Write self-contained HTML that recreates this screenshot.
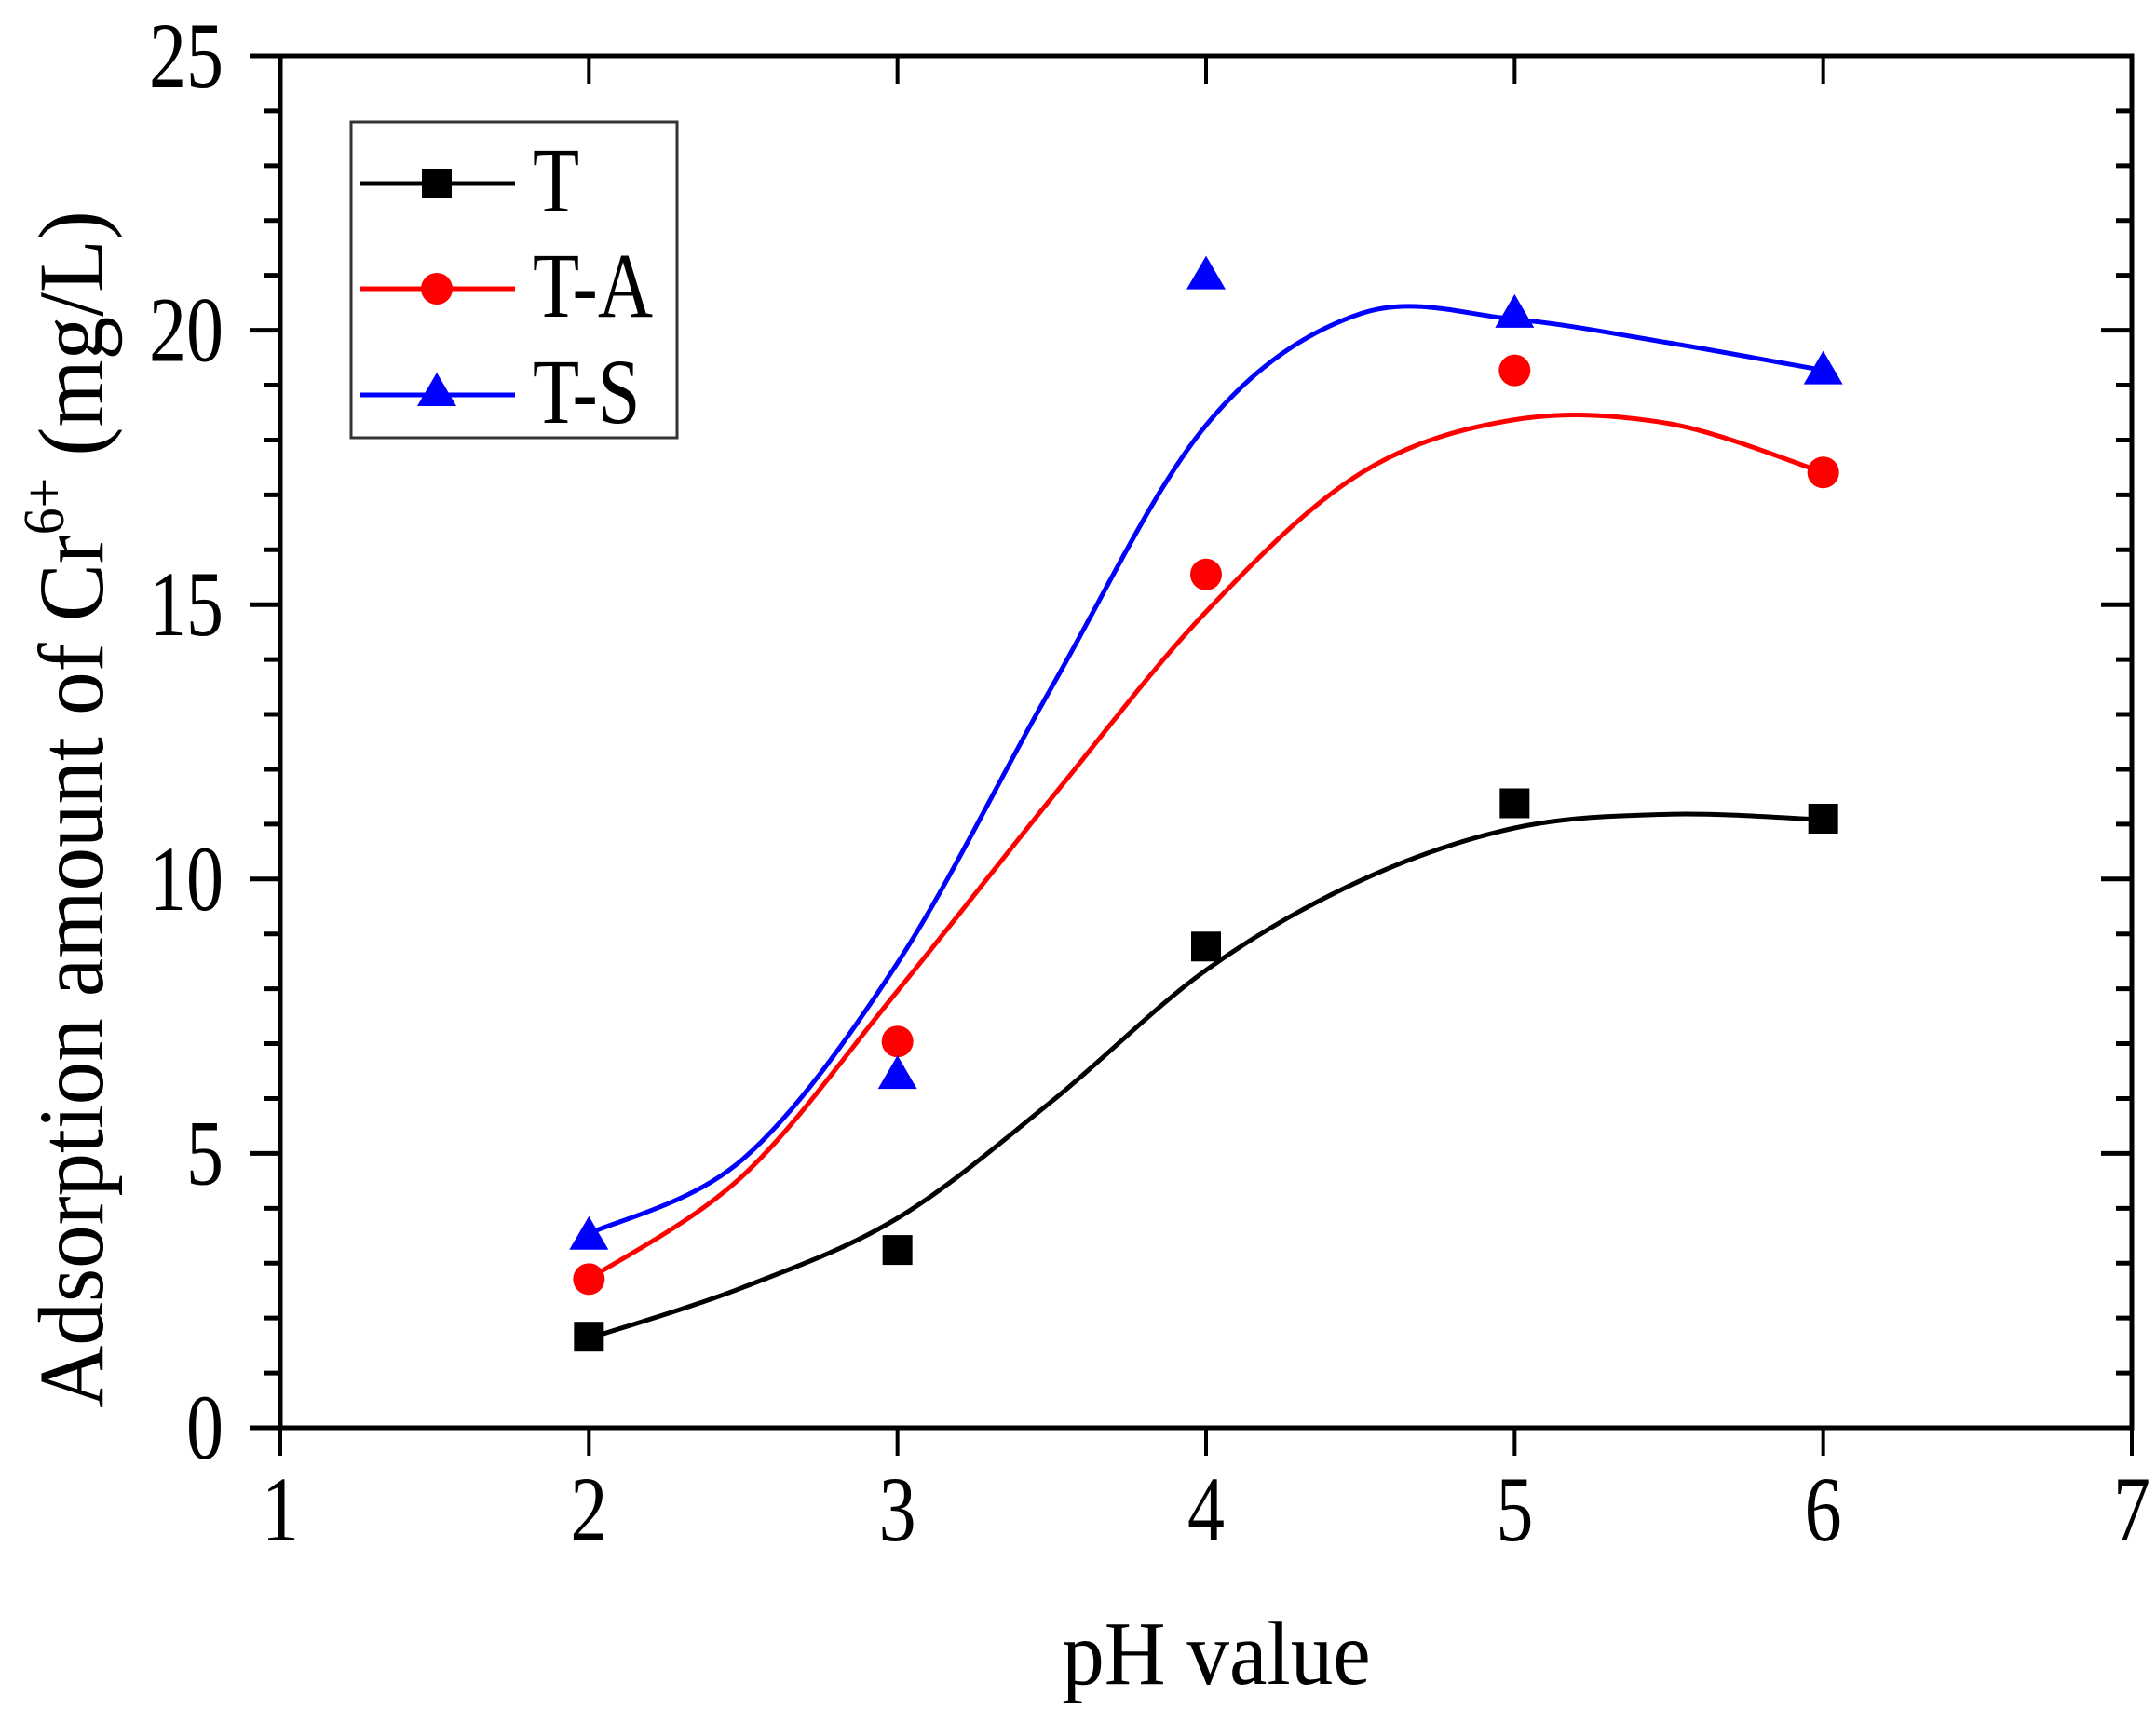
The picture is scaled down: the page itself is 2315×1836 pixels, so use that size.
<!DOCTYPE html>
<html><head><meta charset="utf-8"><style>
html,body{margin:0;padding:0;background:#fff;}
svg{display:block;font-family:"Liberation Serif",serif;}
</style></head><body>
<svg id="chart" width="2315" height="1836" viewBox="0 0 2315 1836" xmlns="http://www.w3.org/2000/svg">
<g id="axes"></g>
<g id="curves"></g>
<g id="marks"></g>
<g id="legend"></g>
<text transform="translate(1306,1808) scale(0.93,1)" font-size="98" text-anchor="middle">pH value</text>
<text transform="translate(110,869) rotate(-90) scale(0.93,1)" font-size="100" text-anchor="middle">Adsorption amount of Cr<tspan font-size="62" dy="-42">6+</tspan><tspan dy="42"> (mg/L)</tspan></text>
</svg>
<script>
const xCats = [2, 3, 4, 5, 6];
const seriesNames = ["T", "T-A", "T-S"];
const seriesColors = ["#000000", "#ff0000", "#0000ff"];
const valsT = [1.66, 3.24, 8.77, 11.38, 11.1];
const valsTA = [2.71, 7.04, 15.55, 19.27, 17.41];
const valsTS = [3.5, 6.43, 21.0, 20.3, 19.27];
const fitX = [2, 2.5, 3, 3.5, 4, 4.5, 5, 5.5, 6];
const fitT = [1.63, 2.56, 3.82, 5.95, 8.34, 9.97, 10.93, 11.18, 11.08];
const fitTA = [2.71, 4.6, 7.96, 11.48, 14.87, 17.39, 18.37, 18.3, 17.41];
const fitTS = [3.54, 4.9, 8.47, 13.5, 18.27, 20.3, 20.2, 19.77, 19.27];
const xTicks = [1, 2, 3, 4, 5, 6, 7];
const yTicks = [0, 5, 10, 15, 20, 25];

const NS = "http://www.w3.org/2000/svg";
const L = 301, R = 2289, T = 60, B = 1533;
const xs = v => L + (v - 1) / 6 * (R - L);
const ys = v => B - v / 25 * (B - T);
function mk(tag, attrs, parent) {
  const e = document.createElementNS(NS, tag);
  for (const k in attrs) e.setAttribute(k, attrs[k]);
  parent.appendChild(e);
  return e;
}
const axes = document.getElementById("axes");
const frame = mk("rect", {x: L, y: T, width: R - L, height: B - T, fill: "none", stroke: "#000", "stroke-width": 5}, axes);


xTicks.forEach(v => {
  const x = xs(v);
  const t1 = mk("line", {x1: x, y1: B, x2: x, y2: B + 30, stroke: "#000", "stroke-width": 4}, axes);
  
  
  const t2 = mk("line", {x1: x, y1: T, x2: x, y2: T + 30, stroke: "#000", "stroke-width": 4}, axes);
  
  
  const lb = mk("text", {transform: "translate(" + x + ",1654) scale(0.8,1)", "font-size": 100, "text-anchor": "middle"}, axes);
  lb.textContent = v;
  
  
});
for (let v = 0; v <= 25; v++) {
  const y = ys(v);
  const major = v % 5 === 0;
  const len = major ? 33 : 17;
  const t1 = mk("line", {x1: L - len, y1: y, x2: L, y2: y, stroke: "#000", "stroke-width": 5}, axes);
  
  
  const t2 = mk("line", {x1: R, y1: y, x2: R - len, y2: y, stroke: "#000", "stroke-width": 5}, axes);
  
  
}
yTicks.forEach(v => {
  const lb = mk("text", {transform: "translate(240," + (ys(v) + 33) + ") scale(0.8,1)", "font-size": 100, "text-anchor": "end"}, axes);
  lb.textContent = v;
  
  
});
function smoothPath(xv, yv) {
  const p = xv.map((x, i) => [xs(x), ys(yv[i])]);
  let d = "M" + p[0][0] + "," + p[0][1];
  for (let i = 0; i < p.length - 1; i++) {
    const p0 = p[Math.max(0, i - 1)], p1 = p[i], p2 = p[i + 1], p3 = p[Math.min(p.length - 1, i + 2)];
    const c1 = [p1[0] + (p2[0] - p0[0]) / 6, p1[1] + (p2[1] - p0[1]) / 6];
    const c2 = [p2[0] - (p3[0] - p1[0]) / 6, p2[1] - (p3[1] - p1[1]) / 6];
    d += " C" + c1 + " " + c2 + " " + p2;
  }
  return d;
}
const curves = document.getElementById("curves");
[fitT, fitTA, fitTS].forEach((f, i) => {
  const c = mk("path", {d: smoothPath(fitX, f), fill: "none", stroke: seriesColors[i], "stroke-width": 5}, curves);
  
  
});
function marker(kind, cx, cy, color, parent) {
  let e;
  if (kind === 0) e = mk("rect", {x: cx - 16, y: cy - 16, width: 32, height: 32, fill: color}, parent);
  else if (kind === 1) e = mk("circle", {cx: cx, cy: cy, r: 17, fill: color}, parent);
  else e = mk("polygon", {points: (cx) + "," + (cy - 21) + " " + (cx - 21) + "," + (cy + 15) + " " + (cx + 21) + "," + (cy + 15), fill: color}, parent);
  return e;
}
const marks = document.getElementById("marks");
[valsT, valsTA, valsTS].forEach((vals, i) => {
  vals.forEach((v, j) => {
    const m = marker(i, xs(xCats[j]), ys(v), seriesColors[i], marks);
    
    
  });
});
const lg = document.getElementById("legend");
const box = mk("rect", {x: 377, y: 131, width: 350, height: 339, fill: "#fff", stroke: "#333", "stroke-width": 3}, lg);


const ly = [197, 310, 424];
seriesNames.forEach((n, i) => {
  const g = mk("g", {}, lg);
  
  
  mk("line", {x1: 387, y1: ly[i], x2: 553, y2: ly[i], stroke: seriesColors[i], "stroke-width": 5}, g);
  marker(i, 469, ly[i] + (i === 2 ? -3 : 0), seriesColors[i], g);
  const t = mk("text", {transform: "translate(572," + (ly[i] + 30) + ") scale(0.82,1)", "font-size": 100}, g);
  t.textContent = n;
});
</script>
</body></html>
